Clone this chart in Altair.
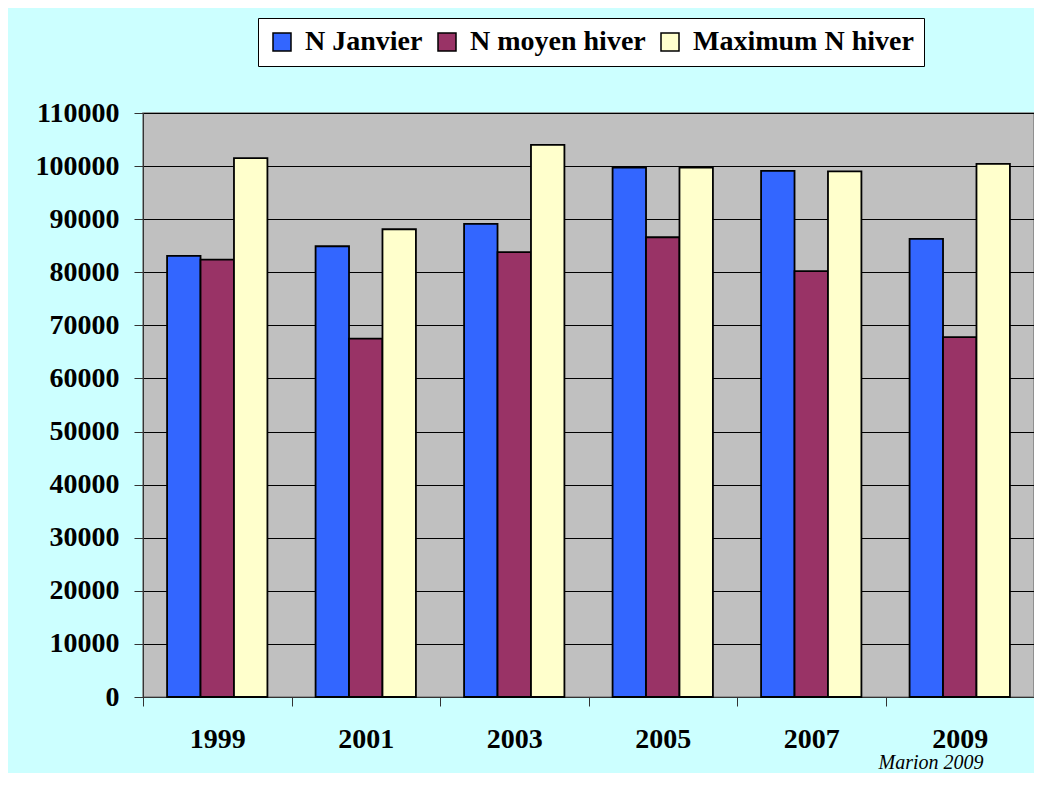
import altair as alt
import pandas as pd

years = ["1999", "2001", "2003", "2005", "2007", "2009"]
series = ["N Janvier", "N moyen hiver", "Maximum N hiver"]
janvier = [83100, 84900, 89100, 99700, 99100, 86300]
moyen = [82400, 67500, 83800, 86600, 80200, 67800]
maximum = [101500, 88100, 104000, 99700, 99000, 100400]
colors = ["#3366FF", "#993366", "#FFFFCC"]
y_ticks = list(range(0, 110001, 10000))

rows = []
for vals, name in zip([janvier, moyen, maximum], series):
    for yr, v in zip(years, vals):
        rows.append({"annee": yr, "serie": name, "valeur": v})
df = pd.DataFrame(rows)

FONT = "Liberation Serif"

bars = alt.Chart(df).mark_bar(stroke="black", strokeWidth=1.8).encode(
    x=alt.X("annee:N", sort=years, title=None,
            scale=alt.Scale(paddingInner=0, paddingOuter=0),
            axis=alt.Axis(labelAngle=0, labelFont=FONT, labelFontSize=28,
                          labelFontWeight="bold", labelColor="black",
                          tickBand="extent", tickSize=9, tickColor="#333333",
                          domainColor="#333333", labelPadding=19, grid=False)),
    xOffset=alt.XOffset("serie:N", sort=series,
                        scale=alt.Scale(paddingInner=0, paddingOuter=0.72)),
    y=alt.Y("valeur:Q", title=None,
            scale=alt.Scale(domain=[0, 110000], nice=False),
            axis=alt.Axis(values=y_ticks, format="d", labelFont=FONT,
                          labelFontSize=28, labelFontWeight="bold",
                          labelColor="black", tickSize=9, tickColor="#333333",
                          domainColor="#333333", labelPadding=15,
                          grid=True, gridColor="black", gridWidth=1.2)),
    color=alt.Color("serie:N", sort=series,
                    scale=alt.Scale(domain=series, range=colors),
                    legend=alt.Legend(title=None, orient="none", direction="horizontal",
                                      legendX=115, legendY=-95)),
)

note = alt.Chart(pd.DataFrame({"t": ["Marion 2009"]})).mark_text(
    font=FONT, fontSize=20, fontStyle="italic", color="black",
    align="center", baseline="alphabetic"
).encode(x=alt.value(788), y=alt.value(656), text="t:N")

chart = alt.layer(bars, note).properties(
    width=891, height=584,
    autosize=alt.AutoSizeParams(type="none"),
    padding={"left": 135, "top": 105, "right": 0, "bottom": 76},
    background="#CCFFFF",
).configure_view(
    fill="#C0C0C0", stroke="#808080", strokeWidth=1.5
).configure_legend(
    padding=10, strokeColor="black", fillColor="white",
    symbolType="square", symbolSize=324, symbolStrokeColor="black",
    symbolStrokeWidth=1.5, symbolOpacity=1,
    labelFont=FONT, labelFontSize=28, labelFontWeight="bold", labelColor="black",
    labelOffset=9, columnPadding=10, labelLimit=400
)

chart.save("out.html", embed_options={"renderer": "svg", "actions": False})
